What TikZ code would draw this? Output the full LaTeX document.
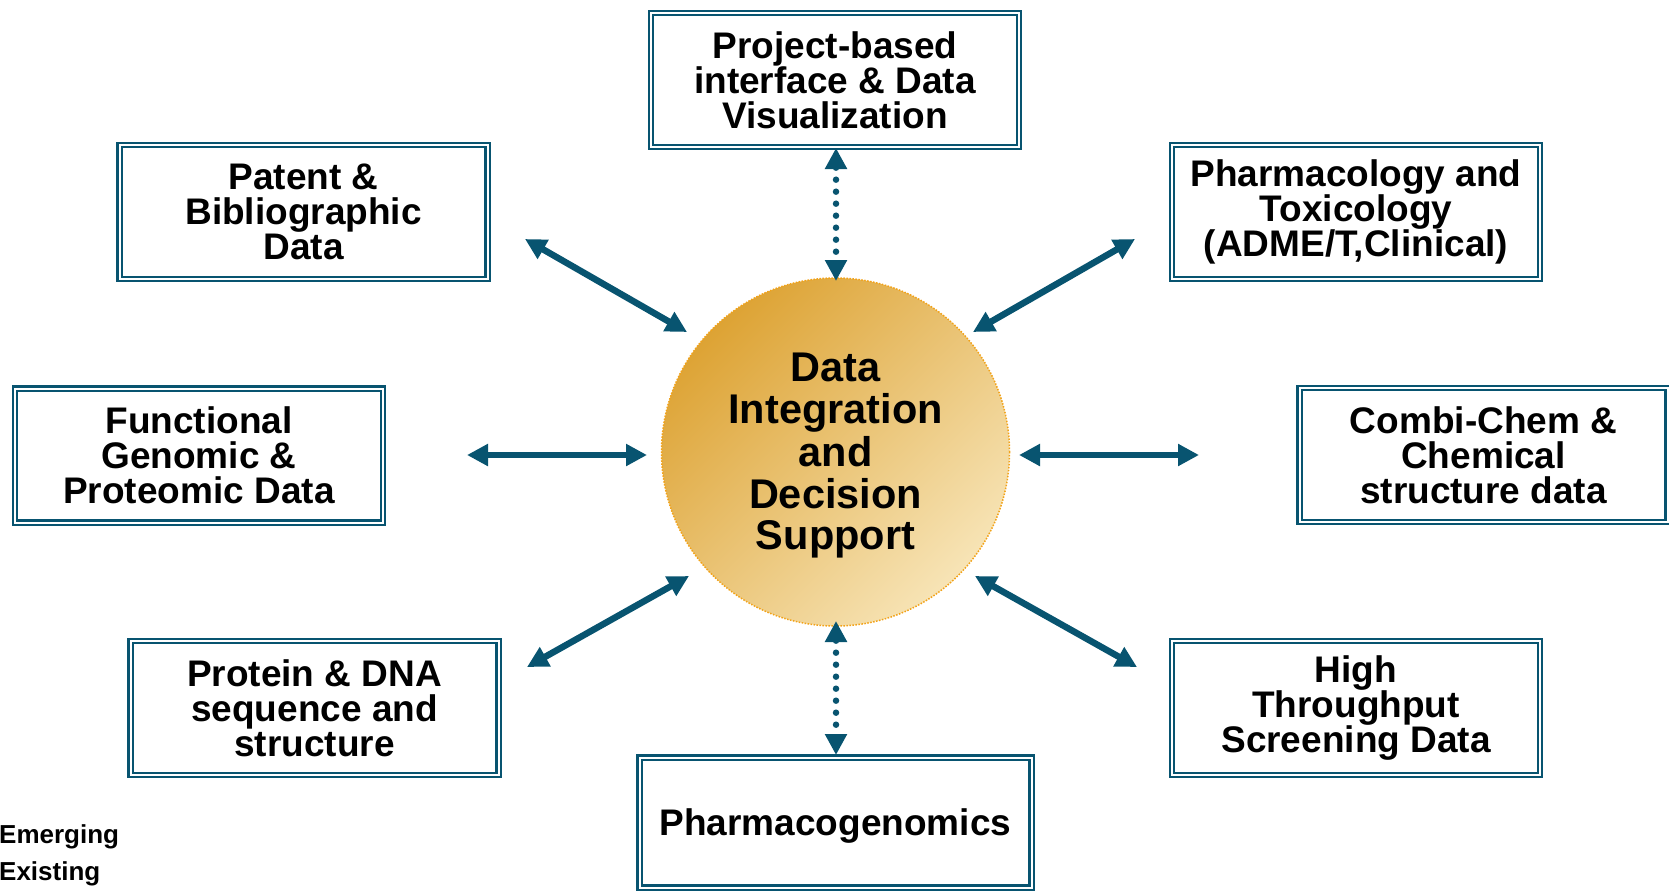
\documentclass[tikz,border=0pt]{standalone}
\usepackage{fontspec}
\setmainfont{Liberation Sans}
\usetikzlibrary{arrows.meta}
\definecolor{tealA}{RGB}{8,84,112}
\definecolor{goldA}{RGB}{221,163,52}
\definecolor{goldB}{RGB}{247,228,182}
\definecolor{orngA}{RGB}{242,162,24}
\begin{document}
\begin{tikzpicture}[x=1pt,y=-1pt,
  boxnode/.style={draw=tealA, line width=2.4pt, double=white, double distance=2pt,
    align=center, inner sep=0pt, text=black,
    font=\bfseries\fontsize{37}{35}\selectfont,
    minimum width=368pt, minimum height=134pt},
  hubnode/.style={circle, draw=orngA, line width=1.5pt, dash pattern=on 1.5pt off 1.5pt,
    shade, top color=goldA, bottom color=goldB, shading angle=45,
    minimum size=348pt, inner sep=0pt,
    font=\bfseries\fontsize{41.5}{41}\selectfont},
  conn/.style={draw=tealA, line width=6.5pt,
    {Triangle[length=21pt,width=21pt]}-{Triangle[length=21pt,width=21pt]}},
  dotconn/.style={conn, dash pattern=on 0pt off 12pt, line cap=round},
  legend/.style={anchor=base west, inner sep=0pt, font=\bfseries\fontsize{26}{30}\selectfont}
]
\useasboundingbox (0,0) rectangle (1669,892);

\node[hubnode] (hub) at (835.5,452) {\raisebox{-5.5pt}[\height][\depth]{\begin{tabular}{@{}c@{}}Data\\Integration\\and\\Decision\\Support\end{tabular}}};

\node[boxnode] (top) at (835,80) {Project-based\\interface \& Data\\Visualization};
\node[boxnode] (pat) at (303.5,212) {Patent \&\\Bibliographic\\Data};
\node[boxnode] (pha) at (1356,212) {Pharmacology and\\Toxicology\\(ADME/T,Clinical)};
\node[boxnode] (fun) at (199,455.5) {Functional\\Genomic \&\\Proteomic Data};
\node[boxnode] (com) at (1483.5,455) {Combi-Chem \&\\Chemical\\structure data};
\node[boxnode] (pro) at (314.5,708) {Protein \& DNA\\sequence and\\structure};
\node[boxnode] (hts) at (1356,708) {High\\Throughput\\Screening Data};
\node[boxnode, minimum width=392pt, minimum height=130pt, text depth=0pt] (pgx) at (835.5,822.5) {Pharmacogenomics};

\coordinate (t1) at (836,148);  \coordinate (t2) at (836,281);
\coordinate (b1) at (836,621);  \coordinate (b2) at (836,755);
\coordinate (pa1) at (525,239); \coordinate (pa2) at (687,332);
\coordinate (ph1) at (1135,239);\coordinate (ph2) at (973,332);
\coordinate (fu1) at (467,455); \coordinate (fu2) at (647,455);
\coordinate (co1) at (1019,455);\coordinate (co2) at (1199,455);
\coordinate (pr1) at (527,667); \coordinate (pr2) at (689,576);
\coordinate (ht1) at (1137,667);\coordinate (ht2) at (975,576);

\draw[dotconn] (t1) -- (t2);
\draw[dotconn] (b1) -- (b2);
\draw[conn] (pa1) -- (pa2);
\draw[conn] (ph1) -- (ph2);
\draw[conn] (fu1) -- (fu2);
\draw[conn] (co1) -- (co2);
\draw[conn] (pr1) -- (pr2);
\draw[conn] (ht1) -- (ht2);

\node[legend] (emg) at (-1,843) {Emerging};
\node[legend] (exi) at (-1,880) {Existing};
\end{tikzpicture}
\end{document}
